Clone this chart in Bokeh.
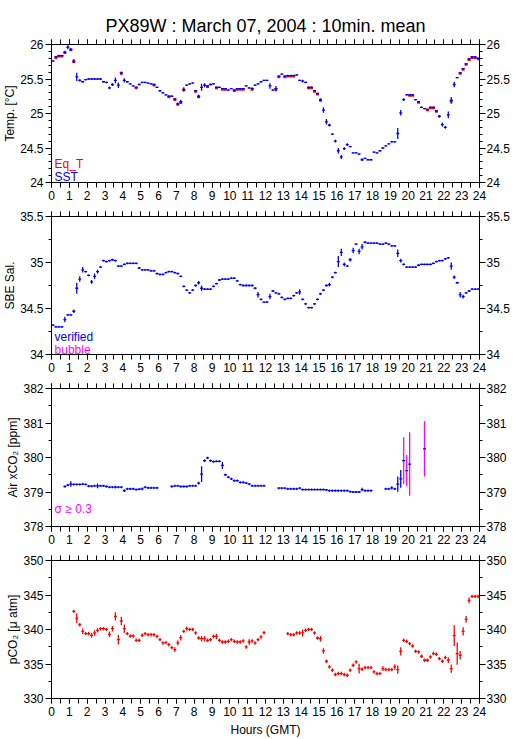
import math
from bokeh.plotting import figure
from bokeh.layouts import column
from bokeh.models import (Range1d, LinearAxis, SingleIntervalTicker,
                          CustomJSTickFormatter, Label, ColumnDataSource)
from bokeh.embed import file_html
from bokeh.resources import INLINE

NaN = float("nan")

TITLE = "PX89W : March 07, 2004 : 10min. mean"
X_LABEL = "Hours (GMT)"

# 10-minute bins (centre of each bin, in hours)
HOURS = [h + (k + 0.5) / 6.0 for h in range(24) for k in range(6)]
BIN_HALF = 1.0 / 12.0

# ---------------- Temperature ----------------
SST_ROWS = [
    [25.76, 25.82, 25.84, 25.84, 25.89, 25.96],
    [25.93, 25.76, 25.53, 25.48, 25.46, 25.49],
    [25.50, 25.50, 25.50, 25.50, 25.50, 25.46],
    [25.45, 25.37, 25.42, 25.48, 25.41, 25.59],
    [25.48, 25.46, 25.43, 25.40, 25.38, 25.42],
    [25.45, 25.45, 25.44, 25.43, 25.42, 25.38],
    [25.33, 25.30, 25.27, 25.25, 25.25, 25.21],
    [25.14, 25.17, 25.35, 25.41, 25.43, 25.44],
    [25.33, 25.25, 25.38, 25.41, 25.40, 25.42],
    [25.43, 25.38, 25.38, 25.36, 25.36, 25.34],
    [25.36, 25.34, 25.36, 25.36, 25.36, 25.40],
    [25.37, 25.36, 25.41, 25.43, 25.46, 25.48],
    [25.48, 25.40, 25.34, 25.36, 25.54, 25.57],
    [25.54, 25.55, 25.55, 25.55, 25.56, 25.48],
    [25.47, 25.45, 25.38, 25.38, 25.33, 25.29],
    [25.20, 25.05, 24.88, 24.83, 24.70, 24.60],
    [24.46, 24.37, 24.49, 24.55, 24.52, 24.43],
    [24.43, 24.41, 24.33, 24.35, 24.33, 24.33],
    [24.44, 24.43, 24.46, 24.50, 24.53, 24.56],
    [24.59, 24.59, 24.71, 25.01, 25.20, 25.27],
    [25.27, 25.27, 25.20, 25.17, 25.09, 25.07],
    [25.06, 25.09, 25.09, 25.04, 24.96, 24.84],
    [24.80, 24.98, 25.19, 25.42, 25.52, 25.59],
    [25.65, 25.72, 25.79, 25.82, 25.82, 25.80],
]
SST_SD_ROWS = [
    [0.01, 0.01, 0.01, 0.01, 0.02, 0.03],
    [0.02, 0.03, 0.06, 0.015, 0.01, 0.01],
    [0.01, 0.01, 0.01, 0.01, 0.01, 0.01],
    [0.01, 0.02, 0.02, 0.04, 0.04, 0.02],
    [0.03, 0.01, 0.01, 0.01, 0.01, 0.01],
    [0.01, 0.01, 0.01, 0.01, 0.01, 0.01],
    [0.01, 0.01, 0.01, 0.01, 0.01, 0.01],
    [0.02, 0.03, 0.03, 0.01, 0.01, 0.01],
    [0.01, 0.02, 0.05, 0.03, 0.01, 0.01],
    [0.01, 0.01, 0.01, 0.01, 0.01, 0.01],
    [0.01, 0.01, 0.01, 0.01, 0.01, 0.01],
    [0.01, 0.02, 0.01, 0.01, 0.01, 0.01],
    [0.01, 0.04, 0.01, 0.04, 0.01, 0.01],
    [0.01, 0.01, 0.01, 0.01, 0.01, 0.01],
    [0.02, 0.01, 0.01, 0.01, 0.01, 0.01],
    [0.02, 0.04, 0.04, 0.02, 0.01, 0.02],
    [0.04, 0.03, 0.02, 0.02, 0.01, 0.01],
    [0.01, 0.01, 0.02, 0.01, 0.01, 0.01],
    [0.01, 0.01, 0.01, 0.01, 0.01, 0.01],
    [0.01, 0.01, 0.08, 0.04, 0.02, 0.01],
    [0.01, 0.01, 0.01, 0.01, 0.01, 0.01],
    [0.01, 0.01, 0.01, 0.01, 0.02, 0.03],
    [0.02, 0.05, 0.05, 0.04, 0.01, 0.01],
    [0.01, 0.01, 0.01, 0.01, 0.01, 0.01],
]
EQT_HOURS = [0.250, 0.417, 0.583, 0.750, 1.083, 1.250, 3.917, 4.750, 5.750,
             6.583, 6.917, 7.083, 7.250, 7.417, 8.083, 8.250, 8.750, 9.250,
             9.583, 9.750, 10.250, 10.417, 10.583, 10.750, 11.250, 12.583,
             12.750, 13.083, 13.250, 13.417, 13.583, 14.417, 14.583, 14.750,
             14.917, 15.083, 20.083, 20.250, 20.583, 21.083, 21.250, 21.417,
             21.583, 22.417, 22.917, 23.083, 23.250, 23.417, 23.583, 23.750,
             23.917]
EQT = [25.81, 25.83, 25.83, 25.88, 25.92, 25.75, 25.58, 25.37, 25.41,
       25.24, 25.20, 25.13, 25.16, 25.34, 25.32, 25.24, 25.39, 25.37,
       25.35, 25.35, 25.33, 25.35, 25.35, 25.35, 25.35, 25.35,
       25.53, 25.53, 25.54, 25.54, 25.54, 25.37, 25.37, 25.32,
       25.28, 25.19, 25.26, 25.26, 25.16, 25.05, 25.08, 25.08,
       25.03, 25.18, 25.58, 25.64, 25.71, 25.78, 25.81, 25.81,
       25.79]

# ---------------- Salinity ----------------
SAL_ROWS = [
    [34.32, 34.30, 34.30, 34.30, 34.38, 34.43],
    [34.43, 34.47, 34.72, 34.82, 34.92, 34.90],
    [34.86, 34.79, 34.85, 34.90, 34.95, 35.02],
    [35.01, 35.02, 35.03, 35.02, 34.96, 34.96],
    [34.98, 34.99, 34.99, 34.99, 34.99, 34.94],
    [34.92, 34.92, 34.92, 34.91, 34.91, 34.88],
    [34.87, 34.87, 34.89, 34.90, 34.90, 34.89],
    [34.88, 34.85, 34.74, 34.70, 34.67, 34.70],
    [34.75, 34.78, 34.72, 34.71, 34.71, 34.71],
    [34.74, 34.77, 34.81, 34.82, 34.82, 34.82],
    [34.83, 34.83, 34.80, 34.76, 34.75, 34.75],
    [34.75, 34.75, 34.72, 34.65, 34.60, 34.57],
    [34.57, 34.63, 34.69, 34.67, 34.66, 34.62],
    [34.60, 34.61, 34.61, 34.64, 34.67, 34.68],
    [34.60, 34.55, 34.51, 34.51, 34.55, 34.60],
    [34.66, 34.70, 34.75, 34.76, 34.84, 34.89],
    [35.01, 35.11, 34.98, 34.96, 35.03, 35.13],
    [35.20, 35.12, 35.17, 35.22, 35.21, 35.21],
    [35.21, 35.21, 35.20, 35.20, 35.21, 35.20],
    [35.18, 35.18, 35.10, 35.02, 34.98, 34.95],
    [34.95, 34.95, 34.95, 34.97, 34.98, 34.98],
    [34.98, 34.98, 34.99, 35.01, 35.02, 35.02],
    [35.04, 35.05, 34.96, 34.84, 34.78, 34.65],
    [34.63, 34.67, 34.69, 34.71, 34.71, 34.71],
]
SAL_SD_ROWS = [
    [0.01, 0.01, 0.01, 0.01, 0.03, 0.01],
    [0.01, 0.02, 0.06, 0.03, 0.03, 0.01],
    [0.01, 0.02, 0.03, 0.02, 0.01, 0.01],
    [0.01, 0.01, 0.01, 0.01, 0.01, 0.01],
    [0.01, 0.01, 0.01, 0.01, 0.01, 0.01],
    [0.01, 0.01, 0.01, 0.01, 0.01, 0.01],
    [0.01, 0.01, 0.01, 0.01, 0.01, 0.01],
    [0.01, 0.01, 0.01, 0.01, 0.01, 0.01],
    [0.01, 0.02, 0.03, 0.01, 0.01, 0.01],
    [0.01, 0.01, 0.01, 0.01, 0.01, 0.01],
    [0.01, 0.01, 0.01, 0.01, 0.01, 0.01],
    [0.01, 0.01, 0.01, 0.03, 0.01, 0.01],
    [0.01, 0.03, 0.01, 0.01, 0.01, 0.01],
    [0.01, 0.01, 0.01, 0.01, 0.01, 0.03],
    [0.01, 0.01, 0.01, 0.01, 0.01, 0.01],
    [0.01, 0.01, 0.01, 0.02, 0.01, 0.01],
    [0.06, 0.04, 0.02, 0.01, 0.02, 0.03],
    [0.01, 0.03, 0.03, 0.01, 0.01, 0.01],
    [0.01, 0.01, 0.01, 0.01, 0.01, 0.01],
    [0.01, 0.01, 0.04, 0.02, 0.01, 0.01],
    [0.01, 0.01, 0.01, 0.01, 0.01, 0.01],
    [0.01, 0.01, 0.01, 0.01, 0.01, 0.01],
    [0.01, 0.01, 0.04, 0.02, 0.01, 0.03],
    [0.02, 0.01, 0.01, 0.01, 0.01, 0.01],
]

# ---------------- Air xCO2 ----------------
XCO2_ROWS = [
    [NaN, NaN, NaN, NaN, 379.16, 379.20],
    [379.23, 379.22, 379.22, 379.22, 379.23, 379.22],
    [379.17, 379.17, 379.18, 379.18, 379.18, 379.18],
    [379.16, 379.14, 379.14, 379.14, 379.14, 379.14],
    [379.04, 379.09, 379.09, 379.09, 379.07, 379.08],
    [379.09, 379.14, 379.12, 379.12, 379.12, 379.12],
    [NaN, NaN, NaN, NaN, 379.16, 379.18],
    [379.18, 379.16, 379.16, 379.16, 379.18, 379.18],
    [379.18, 379.26, 379.52, 379.91, 379.99, 379.91],
    [379.88, 379.89, 379.89, 379.77, 379.50, 379.43],
    [379.38, 379.33, 379.33, 379.28, 379.28, 379.26],
    [379.23, 379.18, 379.18, 379.18, 379.18, 379.18],
    [NaN, NaN, NaN, NaN, 379.11, 379.11],
    [379.11, 379.09, 379.09, 379.09, 379.09, 379.11],
    [379.07, 379.07, 379.07, 379.07, 379.07, 379.07],
    [379.07, 379.07, 379.06, 379.04, 379.04, 379.04],
    [379.04, 379.04, 379.04, 379.04, 379.01, 379.00],
    [379.00, 379.00, 379.07, 379.04, 379.04, 379.04],
    [NaN, NaN, NaN, NaN, 379.09, 379.09],
    [379.12, 379.09, 379.23, 379.38, 379.91, 379.62],
    [379.81, NaN, NaN, NaN, NaN, 380.25],
    [NaN, NaN, NaN, NaN, NaN, NaN],
    [NaN, NaN, NaN, NaN, NaN, NaN],
    [NaN, NaN, NaN, NaN, NaN, NaN],
]
XCO2_SD_ROWS = [
    [0.03, 0.03, 0.03, 0.03, 0.03, 0.03],
    [0.08, 0.03, 0.03, 0.03, 0.03, 0.03],
    [0.03, 0.03, 0.03, 0.07, 0.03, 0.03],
    [0.03, 0.03, 0.03, 0.04, 0.03, 0.03],
    [0.04, 0.03, 0.03, 0.03, 0.03, 0.03],
    [0.04, 0.03, 0.03, 0.03, 0.03, 0.03],
    [0.03, 0.03, 0.03, 0.03, 0.03, 0.03],
    [0.03, 0.03, 0.03, 0.03, 0.03, 0.03],
    [0.03, 0.04, 0.23, 0.04, 0.03, 0.03],
    [0.03, 0.03, 0.03, 0.10, 0.03, 0.03],
    [0.03, 0.03, 0.03, 0.03, 0.03, 0.03],
    [0.03, 0.03, 0.03, 0.03, 0.03, 0.03],
    [0.03, 0.03, 0.03, 0.03, 0.03, 0.03],
    [0.03, 0.03, 0.03, 0.03, 0.03, 0.03],
    [0.03, 0.03, 0.03, 0.03, 0.03, 0.03],
    [0.03, 0.03, 0.03, 0.03, 0.03, 0.03],
    [0.03, 0.03, 0.03, 0.03, 0.03, 0.03],
    [0.03, 0.03, 0.05, 0.03, 0.03, 0.03],
    [0.03, 0.03, 0.03, 0.03, 0.03, 0.03],
    [0.05, 0.03, 0.22, 0.26, 0.68, 0.45],
    [0.92, 0.03, 0.03, 0.03, 0.03, 0.80],
    [0.03, 0.03, 0.03, 0.03, 0.03, 0.03],
    [0.03, 0.03, 0.03, 0.03, 0.03, 0.03],
    [0.03, 0.03, 0.03, 0.03, 0.03, 0.03],
]
SIGMA_LIMIT = 0.3

# ---------------- pCO2 ----------------
PCO2_ROWS = [
    [NaN, NaN, NaN, NaN, NaN, NaN],
    [NaN, 342.63, 341.66, 340.70, 339.73, 339.40],
    [339.40, 339.16, 339.50, 339.88, 340.12, 340.12],
    [340.02, 339.30, 340.12, 341.90, 338.53, 341.23],
    [340.12, 339.40, 339.06, 339.06, 338.43, 338.43],
    [339.16, 339.40, 339.25, 339.25, 339.25, 339.00],
    [338.53, 338.05, 338.10, 337.80, 337.37, 337.08],
    [338.05, 338.82, 339.73, 340.12, 340.02, 340.02],
    [339.50, 338.77, 338.67, 338.67, 338.43, 338.53],
    [339.00, 339.00, 338.43, 338.19, 338.19, 338.29],
    [338.53, 338.29, 338.19, 338.19, 338.34, 337.47],
    [338.19, 338.34, 338.05, 338.53, 338.92, 339.54],
    [NaN, NaN, NaN, NaN, NaN, NaN],
    [NaN, 339.40, 339.25, 339.25, 339.50, 339.50],
    [339.50, 339.88, 340.02, 340.02, 339.50, 338.77],
    [338.67, 336.89, 335.40, 334.58, 334.10, 333.47],
    [333.61, 333.61, 333.47, 333.37, 334.10, 334.82],
    [335.30, 334.34, 334.24, 334.48, 334.48, 334.48],
    [333.86, 333.61, 333.61, 334.34, 334.19, 334.19],
    [334.19, 334.58, 334.19, 336.84, 338.43, 338.29],
    [337.95, 337.61, 336.84, 336.75, 336.12, 335.54],
    [335.54, 336.02, 336.51, 336.41, 335.78, 335.40],
    [335.93, 335.54, 334.34, 339.10, 336.50, 336.27],
    [339.73, 341.47, 344.22, 344.80, 344.80, 344.80],
]
PCO2_SD_ROWS = [
    [0.25, 0.25, 0.25, 0.25, 0.25, 0.25],
    [0.25, 0.25, 0.7, 0.25, 0.4, 0.25],
    [0.25, 0.35, 0.4, 0.3, 0.25, 0.25],
    [0.25, 0.4, 0.4, 0.6, 0.7, 0.6],
    [0.6, 0.25, 0.25, 0.25, 0.25, 0.25],
    [0.25, 0.25, 0.25, 0.25, 0.25, 0.25],
    [0.25, 0.25, 0.25, 0.25, 0.25, 0.35],
    [0.35, 0.4, 0.25, 0.3, 0.25, 0.25],
    [0.25, 0.25, 0.4, 0.4, 0.25, 0.25],
    [0.25, 0.4, 0.25, 0.25, 0.25, 0.25],
    [0.25, 0.25, 0.25, 0.25, 0.25, 0.25],
    [0.4, 0.25, 0.25, 0.25, 0.25, 0.25],
    [0.25, 0.25, 0.25, 0.25, 0.25, 0.25],
    [0.25, 0.25, 0.25, 0.25, 0.25, 0.25],
    [0.5, 0.25, 0.25, 0.25, 0.25, 0.25],
    [0.4, 0.4, 0.25, 0.25, 0.25, 0.25],
    [0.25, 0.25, 0.25, 0.25, 0.25, 0.25],
    [0.25, 0.7, 0.25, 0.25, 0.25, 0.25],
    [0.25, 0.25, 0.25, 0.35, 0.25, 0.25],
    [0.25, 0.4, 0.6, 0.6, 0.25, 0.25],
    [0.25, 0.25, 0.25, 0.25, 0.25, 0.25],
    [0.25, 0.25, 0.25, 0.25, 0.25, 0.25],
    [0.25, 0.4, 0.6, 1.5, 1.6, 0.6],
    [0.6, 0.5, 0.4, 0.25, 0.25, 0.25],
]


def flat(rows):
    return [v for r in rows for v in r]


SST, SST_SD = flat(SST_ROWS), flat(SST_SD_ROWS)
SAL, SAL_SD = flat(SAL_ROWS), flat(SAL_SD_ROWS)
XCO2, XCO2_SD = flat(XCO2_ROWS), flat(XCO2_SD_ROWS)
PCO2, PCO2_SD = flat(PCO2_ROWS), flat(PCO2_SD_ROWS)

BLUE, RED, MAGENTA = "#0000ff", "#ff0000", "#ff00ff"
FONT = "Liberation Sans"
W = 515
ML, MR = 51, 36
LW = 1.3

yfmt = CustomJSTickFormatter(code="return String(+tick.toFixed(2));")


def style_x(ax, labels):
    ax.ticker = SingleIntervalTicker(interval=1, num_minor_ticks=2)
    ax.axis_line_color = "black"
    ax.major_tick_line_color = "black"
    ax.minor_tick_line_color = "black"
    ax.major_tick_in = 0
    ax.minor_tick_in = 0
    ax.major_tick_out = 5
    ax.minor_tick_out = 5
    ax.major_label_text_font = FONT
    if labels:
        ax.major_label_text_color = "black"
        ax.major_label_text_font_size = "12px"
        ax.major_label_standoff = 3
    else:
        ax.major_label_text_color = None
        ax.major_label_text_font_size = "0px"
        ax.major_label_standoff = 0


def style_y(ax, interval, nminor, label=None, standoff=2):
    ax.ticker = SingleIntervalTicker(interval=interval, num_minor_ticks=nminor)
    ax.formatter = yfmt
    ax.axis_line_color = "black"
    ax.major_tick_line_color = "black"
    ax.minor_tick_line_color = "black"
    ax.major_tick_in = 0
    ax.minor_tick_in = 0
    ax.major_tick_out = 6
    ax.minor_tick_out = 3
    ax.major_label_text_font = FONT
    ax.major_label_text_font_size = "12px"
    ax.major_label_text_color = "black"
    ax.major_label_standoff = standoff
    if label is not None:
        ax.axis_label = label
        ax.axis_label_text_font = FONT
        ax.axis_label_text_font_size = "12px"
        ax.axis_label_text_font_style = "normal"
        ax.axis_label_text_color = "black"
        ax.axis_label_standoff = 0


def make_panel(height, yr, interval, nminor, ylabel, top, bottom, xlabel=None):
    p = figure(width=W, height=height, x_range=Range1d(0, 24), y_range=Range1d(*yr),
               output_backend="svg", toolbar_location=None, tools="",
               min_border_left=ML, min_border_right=MR,
               min_border_top=top, min_border_bottom=bottom)
    p.grid.grid_line_color = None
    p.outline_line_color = "black"
    p.background_fill_color = "white"
    p.border_fill_color = "white"
    style_x(p.xaxis[0], True)
    style_y(p.yaxis[0], interval, nminor, ylabel)
    if xlabel:
        ax = p.xaxis[0]
        ax.axis_label = xlabel
        ax.axis_label_text_font = FONT
        ax.axis_label_text_font_size = "12px"
        ax.axis_label_text_font_style = "normal"
        ax.axis_label_text_color = "black"
        ax.axis_label_standoff = 4
    top_ax = LinearAxis()
    style_x(top_ax, False)
    p.add_layout(top_ax, "above")
    right_ax = LinearAxis()
    style_y(right_ax, interval, nminor, None, standoff=1)
    p.add_layout(right_ax, "right")
    return p


def crosses(p, hours, vals, sds, hcolor, vcolors, width=LW):
    h = dict(x0=[], x1=[], y=[])
    v = dict(x=[], y0=[], y1=[], c=[])
    for t, val, sd, vc in zip(hours, vals, sds, vcolors):
        if val is None or math.isnan(val):
            continue
        h["x0"].append(t - BIN_HALF)
        h["x1"].append(t + BIN_HALF)
        h["y"].append(val)
        v["x"].append(t)
        v["y0"].append(val - sd)
        v["y1"].append(val + sd)
        v["c"].append(vc)
    p.segment(x0="x", y0="y0", x1="x", y1="y1", line_color="c",
              line_width=width, source=ColumnDataSource(v))
    p.segment(x0="x0", y0="y", x1="x1", y1="y", line_color=hcolor,
              line_width=width, source=ColumnDataSource(h))


def legend_text(p, x, y, text, color):
    p.add_layout(Label(x=x, y=y, text=text, text_color=color, text_font=FONT,
                       text_font_size="12px", text_baseline="alphabetic",
                       text_align="left"))


# Panel 1: temperature
p1 = make_panel(204, (24, 26), 0.5, 5, "Temp. [°C]", 44, 22)
p1.title.text = TITLE
p1.title.align = "center"
p1.title.vertical_align = "top"
p1.title.text_font = FONT
p1.title.text_font_size = "18px"
p1.title.text_font_style = "normal"
p1.title.text_color = "black"
p1.title.standoff = 4
eq_src = ColumnDataSource(dict(x0=[t - BIN_HALF for t in EQT_HOURS],
                               x1=[t + BIN_HALF for t in EQT_HOURS], y=EQT))
p1.segment(x0="x0", y0="y", x1="x1", y1="y", line_color=RED, line_width=2.6, source=eq_src)
crosses(p1, HOURS, SST, SST_SD, BLUE, [BLUE] * len(HOURS))
legend_text(p1, 0.17, 24.27, "Eq_T", RED)
legend_text(p1, 0.17, 24.08, "SST", BLUE)

# Panel 2: salinity
p2 = make_panel(172, (34, 35.5), 0.5, 2, "SBE Sal.", 12, 22)
crosses(p2, HOURS, SAL, SAL_SD, BLUE, [BLUE] * len(HOURS))
legend_text(p2, 0.17, 34.19, "verified", BLUE)
legend_text(p2, 0.17, 34.05, "bubble", MAGENTA)

# Panel 3: air xCO2
p3 = make_panel(172, (378, 382), 1, 2, "Air xCO₂ [ppm]", 12, 22)
xco2_vc = [MAGENTA if s >= SIGMA_LIMIT else BLUE for s in XCO2_SD]
crosses(p3, HOURS, XCO2, XCO2_SD, BLUE, xco2_vc)
legend_text(p3, 0.17, 378.5, "σ ≥ 0.3", MAGENTA)

# Panel 4: pCO2
p4 = make_panel(191, (330, 350), 5, 2, "pCO₂ [μ atm]", 12, 41, xlabel=X_LABEL)
crosses(p4, HOURS, PCO2, PCO2_SD, RED, [RED] * len(HOURS))

layout = column(p1, p2, p3, p4, spacing=0)
open("out.html", "w").write(file_html(layout, INLINE, title="PX89W"))
